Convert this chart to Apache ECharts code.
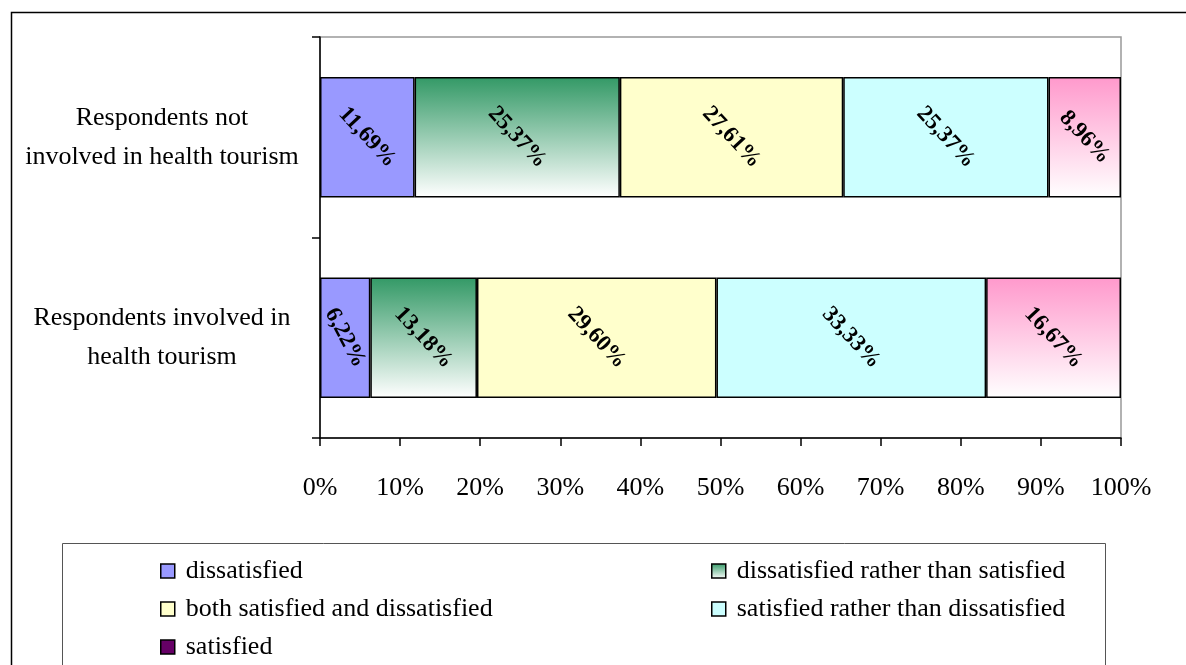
<!DOCTYPE html>
<html>
<head>
<meta charset="utf-8">
<script src="https://cdn.jsdelivr.net/npm/echarts@6/dist/echarts.min.js"></script>
<style>
  html, body { margin: 0; padding: 0; background: #fff; }
  #chart { width: 1186px; height: 665px; }
</style>
</head>
<body>
<div id="chart"></div>
<script>
// Survey groups (top to bottom)
const categories = [
  'Respondents not\ninvolved in health tourism',
  'Respondents involved in\nhealth tourism'
];

// Answer options in stacking order
const seriesNames = [
  'dissatisfied',
  'dissatisfied rather than satisfied',
  'both satisfied and dissatisfied',
  'satisfied rather than dissatisfied',
  'satisfied'
];

// Shares per answer option, one entry per group (in %)
const dissatisfied        = [11.69, 6.22];
const ratherDissatisfied  = [25.37, 13.18];
const bothSatisfied       = [27.61, 29.60];
const ratherSatisfied     = [25.37, 33.33];
const satisfied           = [8.96, 16.67];

const xTickLabels = ['0%', '10%', '20%', '30%', '40%', '50%', '60%', '70%', '80%', '90%', '100%'];

const allValues = [dissatisfied, ratherDissatisfied, bothSatisfied, ratherSatisfied, satisfied];

// Row totals: each bar is scaled to 100%
const totals = categories.map((_, i) => allValues.reduce((s, arr) => s + arr[i], 0));

const FONT = '"Liberation Serif", "Times New Roman", serif';

function vGrad(top, bottom) {
  return new echarts.graphic.LinearGradient(0, 0, 0, 1, [
    { offset: 0, color: top },
    { offset: 1, color: bottom }
  ]);
}

const fills = [
  '#9999FF',
  vGrad('#339966', '#FFFFFF'),
  '#FFFFCC',
  '#CCFFFF',
  vGrad('#FF99CC', '#FFFFFF')
];
const legendFills = ['#9999FF', vGrad('#339966', '#FFFFFF'), '#FFFFCC', '#CCFFFF', '#660066'];

const fmt = v => v.toFixed(2).replace('.', ',') + '%';

const series = seriesNames.map((name, si) => ({
  name: name,
  type: 'bar',
  stack: 'total',
  barWidth: '60%',
  itemStyle: { color: fills[si], borderColor: '#000', borderWidth: 1.5 },
  label: {
    show: true,
    position: 'inside',
    rotate: -47,
    fontFamily: FONT,
    fontSize: 23,
    fontWeight: 'bold',
    color: '#000',
    formatter: p => fmt(allValues[si][p.dataIndex])
  },
  data: allValues[si].map((v, ci) => {
    const item = { value: v / totals[ci] * 100 };
    if (v / totals[ci] < 0.08) item.label = { rotate: -62 };
    return item;
  })
}));

const legendItem = i => ({
  name: seriesNames[i],
  itemStyle: { color: legendFills[i], borderColor: '#000', borderWidth: 1.5 }
});

const legendCommon = {
  orient: 'vertical',
  itemWidth: 14,
  itemHeight: 14,
  itemGap: 12,
  icon: 'rect',
  selectedMode: false,
  textStyle: { fontFamily: FONT, fontSize: 26, lineHeight: 26, color: '#000', padding: [0, 0, 0, 6] }
};

const chart = echarts.init(document.getElementById('chart'), null, { renderer: 'canvas' });
chart.setOption({
  animation: false,
  backgroundColor: '#fff',
  graphic: [
    {
      type: 'rect', z: -1,
      shape: { x: 11.5, y: 12.5, width: 1200, height: 700 },
      style: { fill: 'none', stroke: '#000', lineWidth: 1.5 }
    },
    {
      type: 'rect', z: -1,
      shape: { x: 62.5, y: 543.5, width: 1043, height: 200 },
      style: { fill: 'none', stroke: '#555', lineWidth: 1 }
    }
  ],
  grid: {
    left: 320, right: 65, top: 37, bottom: 227,
    show: true, borderColor: '#999', borderWidth: 1.5, backgroundColor: 'transparent'
  },
  legend: [
    Object.assign({}, legendCommon, {
      left: 155, top: 553,
      data: [legendItem(0), legendItem(2), legendItem(4)]
    }),
    Object.assign({}, legendCommon, {
      left: 706, top: 553,
      data: [legendItem(1), legendItem(3)]
    })
  ],
  xAxis: {
    type: 'value',
    min: 0, max: 100, interval: 10,
    axisLine: { show: true, lineStyle: { color: '#000', width: 1.5 } },
    axisTick: { show: true, length: 8, lineStyle: { color: '#000', width: 1.5 } },
    splitLine: { show: false },
    axisLabel: {
      margin: 37,
      fontFamily: FONT, fontSize: 26, color: '#000',
      formatter: v => xTickLabels[Math.round(v / 10)]
    }
  },
  yAxis: {
    type: 'category',
    inverse: true,
    data: categories,
    axisLine: { show: true, lineStyle: { color: '#000', width: 1.5 } },
    axisTick: { show: true, length: 8, lineStyle: { color: '#000', width: 1.5 } },
    axisLabel: {
      margin: 158,
      align: 'center',
      fontFamily: FONT, fontSize: 26, color: '#000', lineHeight: 39
    }
  },
  series: series
});
</script>
</body>
</html>
